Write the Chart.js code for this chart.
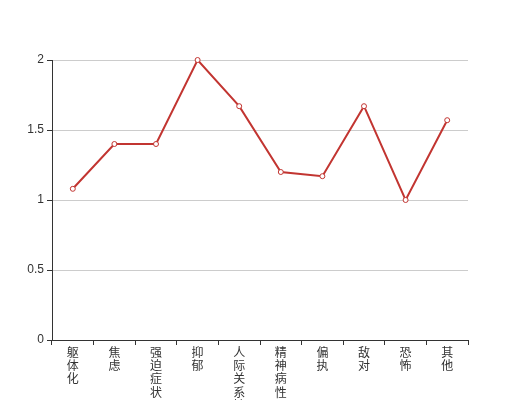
<!DOCTYPE html>
<html>
<head>
<meta charset="utf-8">
<script src="https://cdn.jsdelivr.net/npm/chart.js@4/dist/chart.umd.min.js"></script>
<style>
  html, body { margin: 0; padding: 0; background: #fff; }
  #wrap { width: 520px; height: 400px; }
</style>
</head>
<body>
<div id="wrap"><canvas id="c" width="520" height="400"></canvas></div>
<script>
// ─── 数据 ─────────────────────────────────────────────
const categories = ['躯体化', '焦虑', '强迫症状', '抑郁', '人际关系敏感', '精神病性', '偏执', '敌对', '恐怖', '其他'];
const scores     = [1.08, 1.4, 1.4, 2.0, 1.67, 1.2, 1.17, 1.67, 1.0, 1.57];
const yTicks     = [0, 0.5, 1, 1.5, 2];
const yLabels    = ['0', '0.5', '1', '1.5', '2'];

const FONT = '"Liberation Sans", "Noto Sans CJK SC", sans-serif';
const AXIS = '#333';

// 竖排标签：每个字一行
const verticalLabels = categories.map(s => s.split(''));

new Chart(document.getElementById('c'), {
  type: 'line',
  data: {
    labels: verticalLabels,
    datasets: [{
      data: scores,
      borderColor: '#c23531',
      borderWidth: 2,
      backgroundColor: '#fff',
      pointBackgroundColor: '#fff',
      pointBorderColor: '#c23531',
      pointBorderWidth: 1,
      pointRadius: 2.5,
      tension: 0,
      clip: false,
    }],
  },
  options: {
    responsive: false,
    animation: false,
    layout: { padding: { left: 0, right: 52, top: 60, bottom: 0 } },
    plugins: { legend: { display: false }, tooltip: { enabled: false } },
    scales: {
      x: {
        offset: true,
        grid: { offset: true, drawOnChartArea: false, drawTicks: true, tickLength: 5, color: AXIS },
        border: { display: true, color: AXIS, width: 1 },
        ticks: {
          color: AXIS, maxRotation: 0, autoSkip: false, padding: 2,
          font: { family: FONT, size: 12, lineHeight: 1.1 },
        },
        afterFit: s => { s.height = 60; },
      },
      y: {
        min: 0, max: 2,
        afterBuildTicks: s => { s.ticks = yTicks.map(v => ({ value: v })); },
        grid: { color: '#ccc', tickColor: AXIS, tickLength: 5 },
        border: { display: true, color: AXIS, width: 1 },
        ticks: {
          color: AXIS, padding: 3, font: { family: FONT, size: 12 },
          callback: (v, i) => yLabels[i],
        },
        afterFit: s => { s.width = 52; },
      },
    },
  },
});
</script>
</body>
</html>
